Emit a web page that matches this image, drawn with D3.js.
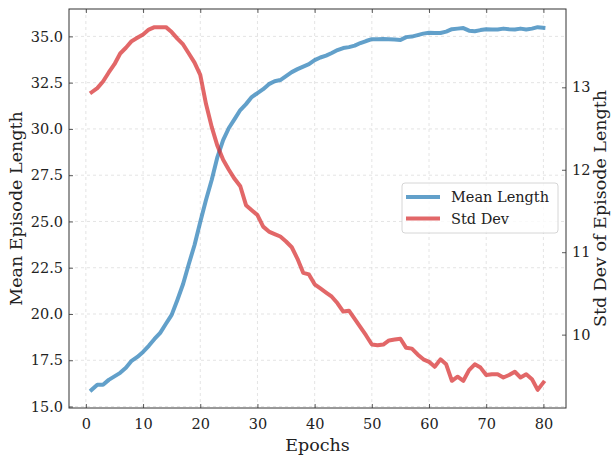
<!DOCTYPE html>
<html>
<head>
<meta charset="utf-8">
<script src="https://cdn.jsdelivr.net/npm/d3@7"></script>
<style>
  body { margin: 0; background: #fff; }
  text { font-family: "DejaVu Serif", serif; fill: #222; }
</style>
</head>
<body>
<div class="chart"></div>
<script>
// epochs 1..80
var epochs = d3.range(1, 81);

var meanLength = [
  15.9, 16.17, 16.17, 16.44, 16.63, 16.82, 17.09, 17.47, 17.68, 17.95,
  18.28, 18.65, 18.98, 19.47, 19.95, 20.76, 21.62, 22.7, 23.73, 24.97,
  26.16, 27.24, 28.48, 29.4, 30.05, 30.53, 31.02, 31.34, 31.72, 31.94,
  32.15, 32.42, 32.58, 32.64, 32.85, 33.07, 33.23, 33.37, 33.5, 33.72,
  33.86, 33.96, 34.1, 34.26, 34.37, 34.42, 34.5, 34.64, 34.75, 34.85,
  34.85, 34.86, 34.85, 34.83, 34.8, 34.96, 34.99, 35.07, 35.15, 35.2,
  35.18, 35.18, 35.26, 35.39, 35.42, 35.45, 35.31, 35.28, 35.34, 35.39,
  35.37, 35.37, 35.42, 35.39, 35.37, 35.42, 35.37, 35.42, 35.5, 35.47
];

var stdDev = [
  12.94, 12.99, 13.07, 13.18, 13.28, 13.41, 13.48, 13.56, 13.6, 13.64,
  13.7, 13.73, 13.73, 13.73, 13.67, 13.59, 13.52, 13.41, 13.3, 13.15,
  12.8, 12.52, 12.29, 12.12, 12.0, 11.89, 11.8, 11.57, 11.51, 11.45,
  11.31, 11.25, 11.22, 11.19, 11.13, 11.06, 10.92, 10.75, 10.73, 10.61,
  10.56, 10.51, 10.46, 10.38, 10.28, 10.29, 10.19, 10.09, 9.99, 9.88,
  9.87, 9.88, 9.93, 9.94, 9.95, 9.84, 9.83, 9.76, 9.7, 9.67,
  9.61, 9.7, 9.64, 9.44, 9.49, 9.44, 9.57, 9.64, 9.6, 9.51,
  9.52, 9.52, 9.48, 9.51, 9.55, 9.48, 9.52, 9.46, 9.33, 9.42
];

var xTicks = [0, 10, 20, 30, 40, 50, 60, 70, 80];
var leftTicks = [15, 17.5, 20, 22.5, 25, 27.5, 30, 32.5, 35];
var rightTicks = [10, 11, 12, 13];

var seriesNames = ['Mean Length', 'Std Dev'];
var seriesColors = ['#1f77b4', '#d62728'];

var margin = { top: 9, right: 45, bottom: 50, left: 69 };
var width = 611 - margin.left - margin.right;
var height = 458 - margin.top - margin.bottom;

// matplotlib-style 5% padding around the data
function padded(ext) {
  var p = (ext[1] - ext[0]) * 0.05;
  return [ext[0] - p, ext[1] + p];
}

var xScale = d3.scaleLinear()
  .domain(padded(d3.extent(epochs)))
  .range([0, width]);

var yLeft = d3.scaleLinear()
  .domain(padded(d3.extent(meanLength)))
  .range([height, 0]);

var yRight = d3.scaleLinear()
  .domain(padded(d3.extent(stdDev)))
  .range([height, 0]);

var svg = d3.select('.chart')
  .append('svg')
    .attr('width', width + margin.left + margin.right)
    .attr('height', height + margin.top + margin.bottom)
  .append('g')
    .attr('transform', 'translate(' + margin.left + ', ' + margin.top + ')');

// grid
svg.append('g')
  .selectAll('line')
  .data(xTicks)
  .enter().append('line')
    .attr('x1', d => xScale(d)).attr('x2', d => xScale(d))
    .attr('y1', 0).attr('y2', height)
    .attr('stroke', '#ddd').attr('stroke-width', 0.8)
    .attr('stroke-dasharray', '3,3');

svg.append('g')
  .selectAll('line')
  .data(leftTicks)
  .enter().append('line')
    .attr('x1', 0).attr('x2', width)
    .attr('y1', d => yLeft(d)).attr('y2', d => yLeft(d))
    .attr('stroke', '#ddd').attr('stroke-width', 0.8)
    .attr('stroke-dasharray', '3,3');

// lines
var lineMean = d3.line()
  .x((d, i) => xScale(epochs[i]))
  .y(d => yLeft(d));

var lineStd = d3.line()
  .x((d, i) => xScale(epochs[i]))
  .y(d => yRight(d));

svg.append('path')
  .datum(meanLength)
  .attr('d', lineMean)
  .attr('fill', 'none')
  .attr('stroke', seriesColors[0])
  .attr('stroke-opacity', 0.7)
  .attr('stroke-width', 4)
  .attr('stroke-linejoin', 'round')
  .attr('stroke-linecap', 'square');

svg.append('path')
  .datum(stdDev)
  .attr('d', lineStd)
  .attr('fill', 'none')
  .attr('stroke', seriesColors[1])
  .attr('stroke-opacity', 0.7)
  .attr('stroke-width', 4)
  .attr('stroke-linejoin', 'round')
  .attr('stroke-linecap', 'square');

// axes (ticks pointing inward)
function styleAxis(g) {
  g.select('.domain').remove();
  g.selectAll('.tick line').attr('stroke', '#333').attr('stroke-width', 0.8);
  g.selectAll('.tick text')
    .style('font-family', '"DejaVu Serif", serif')
    .style('font-size', '14.5px')
    .attr('fill', '#222');
}

svg.append('g')
  .attr('transform', `translate(0, ${height})`)
  .call(d3.axisBottom(xScale).tickValues(xTicks).tickFormat(d3.format('d'))
    .tickSizeInner(-4).tickSizeOuter(0).tickPadding(11))
  .call(styleAxis);

svg.append('g')
  .call(d3.axisTop(xScale).tickValues(xTicks).tickFormat('')
    .tickSizeInner(-4).tickSizeOuter(0))
  .call(styleAxis);

svg.append('g')
  .call(d3.axisLeft(yLeft).tickValues(leftTicks).tickFormat(d3.format('.1f'))
    .tickSizeInner(-4).tickSizeOuter(0).tickPadding(6))
  .call(styleAxis);

svg.append('g')
  .attr('transform', `translate(${width}, 0)`)
  .call(d3.axisRight(yRight).tickValues(rightTicks).tickFormat(d3.format('d'))
    .tickSizeInner(-4).tickSizeOuter(0).tickPadding(6))
  .call(styleAxis);

// frame
svg.append('rect')
  .attr('width', width)
  .attr('height', height)
  .attr('fill', 'none')
  .attr('stroke', '#333')
  .attr('stroke-width', 1);

// axis labels
svg.append('text')
  .attr('x', width / 2)
  .attr('y', height + 43)
  .attr('text-anchor', 'middle')
  .style('font-size', '17.5px')
  .text('Epochs');

svg.append('text')
  .attr('transform', `translate(${-47}, ${height / 2}) rotate(-90)`)
  .attr('text-anchor', 'middle')
  .style('font-size', '17.5px')
  .text('Mean Episode Length');

svg.append('text')
  .attr('transform', `translate(${width + 40}, ${height / 2}) rotate(-90)`)
  .attr('text-anchor', 'middle')
  .style('font-size', '17.5px')
  .text('Std Dev of Episode Length');

// legend
var legend = svg.append('g')
  .attr('transform', 'translate(' + (width - 164) + ', 174)');

legend.append('rect')
  .attr('width', 156)
  .attr('height', 50)
  .attr('rx', 3)
  .attr('fill', 'rgba(255,255,255,0.8)')
  .attr('stroke', '#ccc')
  .attr('stroke-width', 0.8);

var item = legend.selectAll('.item')
  .data(seriesNames)
  .enter().append('g')
    .attr('class', 'item')
    .attr('transform', (d, i) => 'translate(0, ' + (14 + i * 21.5) + ')');

item.append('line')
  .attr('x1', 4).attr('x2', 38)
  .attr('stroke', (d, i) => seriesColors[i])
  .attr('stroke-opacity', 0.7)
  .attr('stroke-width', 4);

item.append('text')
  .attr('x', 49)
  .attr('dy', '0.35em')
  .style('font-size', '14.5px')
  .text(d => d);
</script>
</body>
</html>
